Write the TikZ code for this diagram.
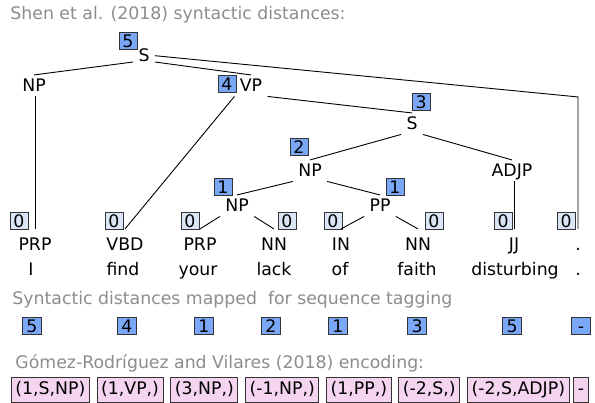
\documentclass[tikz,border=0pt]{standalone}
\usepackage{fontspec}
\setmainfont{DejaVu Sans}
\usetikzlibrary{positioning}
\definecolor{distblue}{HTML}{7BA7F7}
\definecolor{zeroblue}{HTML}{DAE5F8}
\definecolor{tagpink}{HTML}{F4D4EE}
\definecolor{capgray}{HTML}{8C8C8C}
\definecolor{boxline}{HTML}{333333}
\newcommand{\treefont}{\fontsize{17.3}{20}\selectfont}
\tikzstyle{cat}=[%
	font=\treefont,
	text height=12.6pt,
	text depth=0pt,
	inner xsep=5pt,
	inner ysep=4pt,
	anchor=base,
	]
\tikzstyle{postag}=[cat, inner ysep=9pt]
\tikzstyle{word}=[font=\treefont, text height=12.6pt, text depth=3.5pt, anchor=base]
\tikzstyle{caption}=[font=\treefont, text=capgray, anchor=base west, inner sep=0pt]
\tikzstyle{dist}=[%
	draw=boxline,
	fill=distblue,
	font=\treefont,
	inner sep=0pt,
	minimum width=18pt,
	minimum height=17pt,
	text height=12.6pt,
	text depth=0pt,
	]
\tikzstyle{zero}=[dist, fill=zeroblue]
\tikzstyle{enc}=[%
	draw=boxline,
	fill=tagpink,
	font=\treefont,
	inner xsep=4pt,
	inner ysep=4pt,
	text height=13pt,
	text depth=3.5pt,
	]

\begin{document}
\begin{tikzpicture}[x=1pt,y=-1pt,line width=0.9pt]%
          \useasboundingbox (0,0) rectangle (595,403);
          \node[caption] (cap1) at (10,20) {Shen et al. (2018) syntactic distances:};

          % constituents
          \node[cat] (S0) at (144,62) {S};
          \node[cat] (NPa) at (34,92) {NP};
          \node[cat] (VP) at (251,92) {VP};
          \node[cat] (S1) at (412,130) {S};
          \node[cat] (NPb) at (310,177) {NP};
          \node[cat] (ADJP) at (512,177) {ADJP};
          \node[cat] (NPc) at (237,212) {NP};
          \node[cat] (PP) at (380,212) {PP};

          % pos tags and words
          \node[postag] (t1) at (35,251) {PRP};
          \node[postag] (t2) at (125,251) {VBD};
          \node[postag] (t3) at (200,251) {PRP};
          \node[postag] (t4) at (274,251) {NN};
          \node[postag] (t5) at (341,251) {IN};
          \node[postag] (t6) at (418,251) {NN};
          \node[postag] (t7) at (514,251) {JJ};
          \node[postag] (t8) at (578,251) {.};
          \node[word] (w1) at (31,276) {I};
          \node[word] (w2) at (123,276) {find};
          \node[word] (w3) at (198,276) {your};
          \node[word] (w4) at (274,276) {lack};
          \node[word] (w5) at (340,276) {of};
          \node[word] (w6) at (417,276) {faith};
          \node[word] (w7) at (515,276) {disturbing};
          \node[word] (w8) at (578,276) {.};

          % distances
          \node[dist] (dS0) at (128,41) {5};
          \node[dist] (dVP) at (227,84) {4};
          \node[dist] (dS1) at (421,102) {3};
          \node[dist] (dNPb) at (299,147) {2};
          \node[dist] (dNPc) at (223,187) {1};
          \node[dist] (dPP) at (395,187) {1};
          \node[zero] (z1) at (19,221) {0};
          \node[zero] (z2) at (114,221) {0};
          \node[zero] (z3) at (190,221) {0};
          \node[zero] (z4) at (287,221) {0};
          \node[zero] (z5) at (333,221) {0};
          \node[zero] (z6) at (434,221) {0};
          \node[zero] (z7) at (503,221) {0};
          \node[zero] (z8) at (566,221) {0};

          \draw[] (S0.base west) -- (NPa.north);%
          \draw[] (S0.base east) -- (VP.north);%
          \draw[] (S0.east) -- ([yshift=132pt]t8.north) -- (t8.north);%
          \draw[] (t1.north |- NPa.south) -- (t1.north);%
          \draw[] (VP.south west) -- (t2.north);%
          \draw[] (VP.south east) -- (S1.north);%
          \draw[] (S1.south west) -- (NPb.north);%
          \draw[] (S1.south east) -- (ADJP.north);%
          \draw[] (t7.north |- ADJP.south) -- (t7.north);%
          \draw[] (NPb.south west) -- (NPc.north);%
          \draw[] (NPb.south east) -- (PP.north);%
          \draw[] (NPc.south west) -- (t3.north);%
          \draw[] (NPc.south east) -- (t4.north);%
          \draw[] (PP.south west) -- (t5.north);%
          \draw[] (PP.south east) -- (t6.north);%

          % sequence tagging
          \node[caption] (cap2) at (12,305) {Syntactic distances mapped\ \ for sequence tagging};
          \node[dist, minimum width=19pt] (m1) at (32,326) {5};
          \node[dist, minimum width=19pt] (m2) at (127,326) {4};
          \node[dist, minimum width=19pt] (m3) at (204,326) {1};
          \node[dist, minimum width=19pt] (m4) at (271,326) {2};
          \node[dist, minimum width=19pt] (m5) at (338,326) {1};
          \node[dist, minimum width=19pt] (m6) at (417,326) {3};
          \node[dist, minimum width=19pt] (m7) at (512,326) {5};
          \node[dist, minimum width=19pt] (m8) at (581,326) {-};

          \node[caption] (cap3) at (15,369) {Gómez-Rodríguez and Vilares (2018) encoding:};
          \node[enc, anchor=west] (e1) at (11,390) {(1,S,NP)};
          \node[enc, right=7pt of e1] (e2) {(1,VP,)};
          \node[enc, right=7pt of e2] (e3) {(3,NP,)};
          \node[enc, right=7pt of e3] (e4) {(-1,NP,)};
          \node[enc, right=7pt of e4] (e5) {(1,PP,)};
          \node[enc, right=7pt of e5] (e6) {(-2,S,)};
          \node[enc, right=7pt of e6] (e7) {(-2,S,ADJP)};
          \node[enc, right=4pt of e7] (e8) {-};
        \end{tikzpicture}
\end{document}
